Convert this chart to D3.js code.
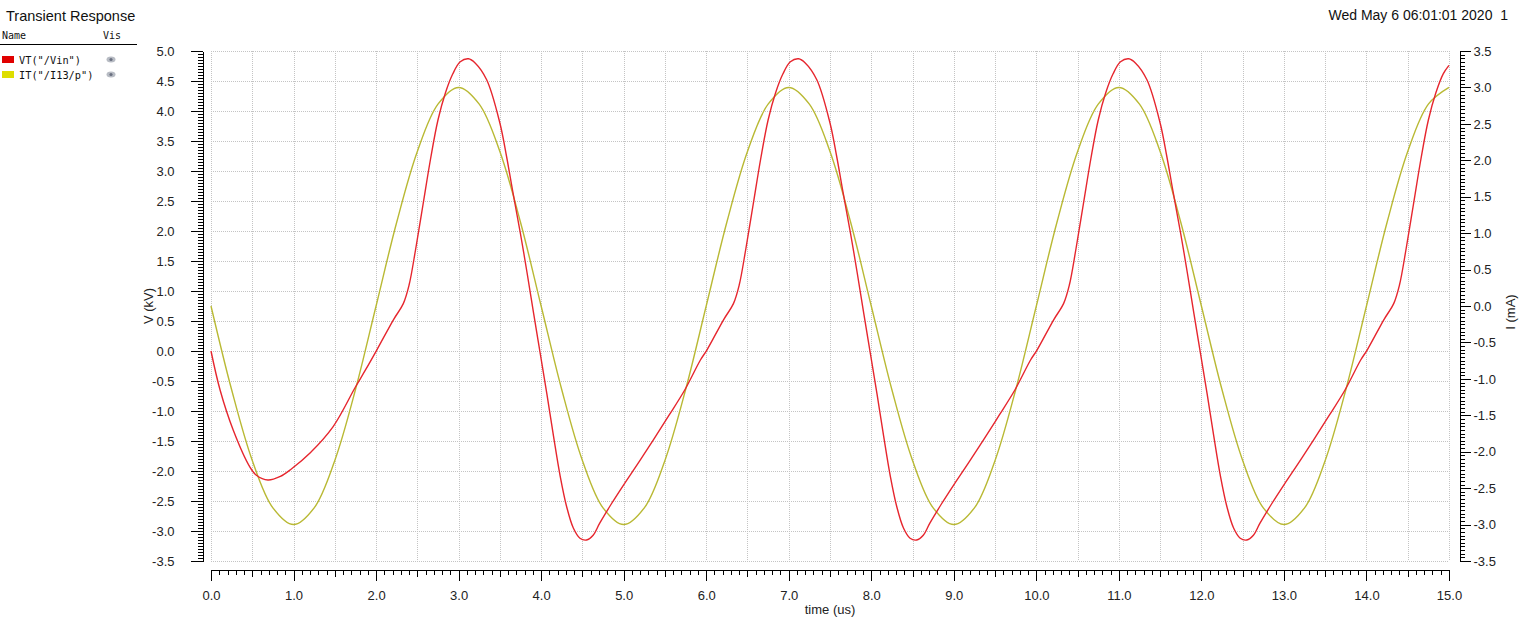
<!DOCTYPE html>
<html><head><meta charset="utf-8">
<script src="https://cdn.jsdelivr.net/npm/d3@7"></script>
<style>
html,body{margin:0;padding:0;background:#fff;}
svg{display:block;}
text{font-family:"Liberation Sans",Arial,sans-serif;}
.mono{font-family:"DejaVu Sans Mono",monospace;}
</style></head>
<body>
<svg id="chart" width="1522" height="618"></svg>
<script>
// ---- data ----
const title = "Transient Response";
const stamp = "Wed May 6 06:01:01 2020  1";
const seriesNames = ['VT("/Vin")', 'IT("/I13/p")'];
const seriesColors = ["#e6262e", "#b9b934"];
const swatchColors = ["#e00000", "#dede00"];
const xTickLabels = [0,1,2,3,4,5,6,7,8,9,10,11,12,13,14,15];
const leftTickLabels = [-3.5,-3.0,-2.5,-2.0,-1.5,-1.0,-0.5,0.0,0.5,1.0,1.5,2.0,2.5,3.0,3.5,4.0,4.5,5.0];
const rightTickLabels = [-3.5,-3.0,-2.5,-2.0,-1.5,-1.0,-0.5,0.0,0.5,1.0,1.5,2.0,2.5,3.0,3.5];
const xLabel = "time (us)";
const leftLabel = "V (kV)";
const rightLabel = "I (mA)";

// VT("/Vin") in kV : [time us, value]
const vinData = [
 [0,0],[0.11,-0.65],[0.27,-1.32],[0.47,-1.93],[0.55,-2.07],[0.69,-2.15],[0.84,-2.09],[0.97,-1.97],
 [1.2,-1.7],[1.48,-1.26],[1.75,-0.6],[1.87,-0.32],[2.01,0.02],[2.21,0.52],[2.33,0.79],
 [2.4,1.1],[2.48,1.7],[2.57,2.45],[2.66,3.2],[2.75,3.85],[2.84,4.3],[2.93,4.62],[3.02,4.82],[3.12,4.87],
 [3.2,4.8],[3.34,4.52],[3.5,3.8],[3.58,3.25],[3.66,2.63],[3.75,1.95],[3.83,1.3],[3.91,0.62],[3.99,-0.05],
 [4.07,-0.72],[4.15,-1.42],[4.23,-2.08],[4.31,-2.6],[4.39,-2.95],[4.47,-3.12],[4.55,-3.15],[4.63,-3.07],[4.71,-2.87],
 [4.85,-2.55],[5.0,-2.23],[5.18,-1.86],[5.36,-1.48],[5.55,-1.07],[5.74,-0.65],[5.93,-0.15],[6.01,0.02],
 [6.21,0.52],[6.33,0.79],
 [6.4,1.1],[6.48,1.7],[6.57,2.45],[6.66,3.2],[6.75,3.85],[6.84,4.3],[6.93,4.62],[7.02,4.82],[7.12,4.87],
 [7.2,4.8],[7.34,4.52],[7.5,3.8],[7.58,3.25],[7.66,2.63],[7.75,1.95],[7.83,1.3],[7.91,0.62],[7.99,-0.05],
 [8.07,-0.72],[8.15,-1.42],[8.23,-2.08],[8.31,-2.6],[8.39,-2.95],[8.47,-3.12],[8.55,-3.15],[8.63,-3.07],[8.71,-2.87],
 [8.85,-2.55],[9.0,-2.23],[9.18,-1.86],[9.36,-1.48],[9.55,-1.07],[9.74,-0.65],[9.93,-0.15],[10.01,0.02],
 [10.21,0.52],[10.33,0.79],
 [10.4,1.1],[10.48,1.7],[10.57,2.45],[10.66,3.2],[10.75,3.85],[10.84,4.3],[10.93,4.62],[11.02,4.82],[11.12,4.87],
 [11.2,4.8],[11.34,4.52],[11.5,3.8],[11.58,3.25],[11.66,2.63],[11.75,1.95],[11.83,1.3],[11.91,0.62],[11.99,-0.05],
 [12.07,-0.72],[12.15,-1.42],[12.23,-2.08],[12.31,-2.6],[12.39,-2.95],[12.47,-3.12],[12.55,-3.15],[12.63,-3.07],[12.71,-2.87],
 [12.85,-2.55],[13.0,-2.23],[13.18,-1.86],[13.36,-1.48],[13.55,-1.07],[13.74,-0.65],[13.93,-0.15],[14.01,0.02],
 [14.21,0.52],[14.33,0.79],
 [14.4,1.1],[14.48,1.7],[14.57,2.45],[14.66,3.2],[14.75,3.85],[14.84,4.3],[14.93,4.62],[15.0,4.76]
];

// IT("/I13/p") in mA : [time us, value]
const iData = [
 [0,0],[0.25,-1.15],[0.5,-2.12],[0.75,-2.77],[1,-3.0],[1.25,-2.77],[1.5,-2.12],[1.75,-1.15],
 [2,0],[2.25,1.15],[2.5,2.12],[2.75,2.77],[3,3.0],[3.25,2.77],[3.5,2.12],[3.75,1.15],
 [4,0],[4.25,-1.15],[4.5,-2.12],[4.75,-2.77],[5,-3.0],[5.25,-2.77],[5.5,-2.12],[5.75,-1.15],
 [6,0],[6.25,1.15],[6.5,2.12],[6.75,2.77],[7,3.0],[7.25,2.77],[7.5,2.12],[7.75,1.15],
 [8,0],[8.25,-1.15],[8.5,-2.12],[8.75,-2.77],[9,-3.0],[9.25,-2.77],[9.5,-2.12],[9.75,-1.15],
 [10,0],[10.25,1.15],[10.5,2.12],[10.75,2.77],[11,3.0],[11.25,2.77],[11.5,2.12],[11.75,1.15],
 [12,0],[12.25,-1.15],[12.5,-2.12],[12.75,-2.77],[13,-3.0],[13.25,-2.77],[13.5,-2.12],[13.75,-1.15],
 [14,0],[14.25,1.15],[14.5,2.12],[14.75,2.77],[15,3.0]
];

// ---- layout ----
const svg = d3.select("#chart");
const X0 = 211, X1 = 1449, Y0 = 51, Y1 = 561;
const x = d3.scaleLinear().domain([0,15]).range([X0,X1]);
const yL = d3.scaleLinear().domain([-3.5,5]).range([Y1,Y0]);
const yR = d3.scaleLinear().domain([-3.5,3.5]).range([Y1,Y0]);
const fmt = d => d.toFixed(1);

// grid
const grid = svg.append("g").attr("stroke","#c4c4c4").attr("stroke-width",1).attr("stroke-dasharray","1,1");
d3.range(0, 15.001, 0.5).forEach(t => {
  const px = Math.round(x(t)) + 0.5;
  grid.append("line").attr("x1",px).attr("x2",px).attr("y1",Y0).attr("y2",Y1);
});
d3.range(-3.5, 5.001, 0.5).forEach(v => {
  const py = Math.round(yL(v)) + 0.5;
  grid.append("line").attr("x1",X0).attr("x2",X1).attr("y1",py).attr("y2",py);
});

// left axis
const LAX = 202.5;
svg.append("g").attr("transform",`translate(${LAX},0)`)
  .call(d3.axisLeft(yL).tickValues(d3.range(-3.5,5.001,0.05)).tickSize(5).tickSizeOuter(0).tickFormat(""));
svg.append("g").attr("transform",`translate(${LAX},0)`)
  .call(d3.axisLeft(yL).tickValues(leftTickLabels).tickSize(12).tickSizeOuter(0).tickPadding(16).tickFormat(fmt));
// right axis
const RAX = 1459.5;
svg.append("g").attr("transform",`translate(${RAX},0)`)
  .call(d3.axisRight(yR).tickValues(d3.range(-3.5,3.501,0.05)).tickSize(5).tickSizeOuter(0).tickFormat(""));
svg.append("g").attr("transform",`translate(${RAX},0)`)
  .call(d3.axisRight(yR).tickValues(rightTickLabels).tickSize(11).tickSizeOuter(0).tickPadding(3).tickFormat(fmt));
// bottom axis
const BAY = 569.5;
svg.append("g").attr("transform",`translate(0,${BAY})`)
  .call(d3.axisBottom(x).tickValues(d3.range(0,15.001,0.1)).tickSize(5).tickSizeOuter(0).tickFormat(""));
svg.append("g").attr("transform",`translate(0,${BAY})`)
  .call(d3.axisBottom(x).tickValues(d3.range(0.5,15,1)).tickSize(7).tickSizeOuter(0).tickFormat(""));
svg.append("g").attr("transform",`translate(0,${BAY})`)
  .call(d3.axisBottom(x).tickValues(xTickLabels).tickSize(11).tickSizeOuter(0).tickPadding(10).tickFormat(fmt));

svg.selectAll(".tick text").attr("font-size",13).attr("fill","#222")
  .attr("font-family",'"Liberation Sans",Arial,sans-serif');
svg.selectAll(".domain, .tick line").attr("stroke","#000").attr("shape-rendering","crispEdges");

// axis titles
svg.append("text").attr("transform",`translate(153,306) rotate(-90)`).attr("text-anchor","middle")
  .attr("font-size",13).attr("fill","#222").text(leftLabel);
svg.append("text").attr("transform",`translate(1515,312) rotate(-90)`).attr("text-anchor","middle")
  .attr("font-size",13).attr("fill","#222").text(rightLabel);
svg.append("text").attr("x",830).attr("y",614).attr("text-anchor","middle")
  .attr("font-size",13).attr("fill","#222").text(xLabel);

// curves
const lineL = d3.line().x(d=>x(d[0])).y(d=>yL(d[1])).curve(d3.curveCatmullRom.alpha(0.5));
const lineR = d3.line().x(d=>x(d[0])).y(d=>yR(d[1])).curve(d3.curveCatmullRom.alpha(0.5));
svg.append("path").datum(iData).attr("d",lineR).attr("fill","none")
  .attr("stroke",seriesColors[1]).attr("stroke-width",1.4);
svg.append("path").datum(vinData).attr("d",lineL).attr("fill","none")
  .attr("stroke",seriesColors[0]).attr("stroke-width",1.4);

// header texts
svg.append("text").attr("x",6).attr("y",21).attr("font-size",14.5).attr("fill","#111").text(title);
svg.append("text").attr("x",1508).attr("y",20).attr("text-anchor","end").attr("font-size",14)
  .attr("fill","#111").style("white-space","pre").text(stamp);

// legend
svg.append("text").attr("class","mono").attr("x",2).attr("y",39).attr("font-size",10).attr("fill","#111").text("Name");
svg.append("text").attr("class","mono").attr("x",103).attr("y",39).attr("font-size",10).attr("fill","#111").text("Vis");
svg.append("line").attr("x1",0).attr("x2",137).attr("y1",44.5).attr("y2",44.5).attr("stroke","#000");
seriesNames.forEach((n,i) => {
  const yy = 56 + i*15;
  svg.append("rect").attr("x",2).attr("y",yy).attr("width",12).attr("height",7).attr("fill",swatchColors[i]);
  svg.append("text").attr("class","mono").attr("x",19).attr("y",yy+7.5).attr("font-size",10.3).attr("fill","#111").text(n);
  svg.append("ellipse").attr("cx",111).attr("cy",yy+3.5).attr("rx",4.5).attr("ry",3).attr("fill","#b8bcc4");
  svg.append("circle").attr("cx",111).attr("cy",yy+3.5).attr("r",1.6).attr("fill","#6a7080");
});
</script>
</body></html>
